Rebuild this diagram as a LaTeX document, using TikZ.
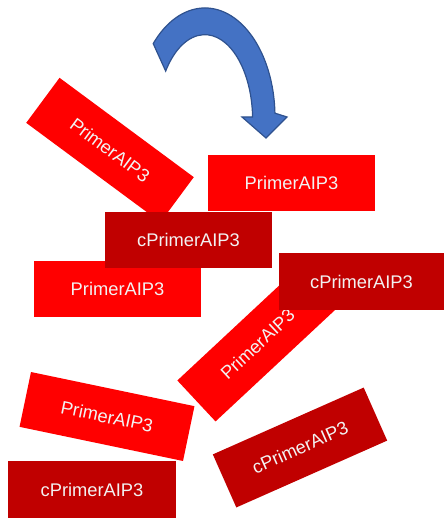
\documentclass[tikz,border=0pt]{standalone}
\usepackage{fontspec}
\setmainfont{Liberation Sans}
\definecolor{brightred}{HTML}{FF0000}
\definecolor{darkred}{HTML}{C00000}
\definecolor{arrowblue}{HTML}{4472C4}
\definecolor{arrowedge}{HTML}{2F528F}
\begin{document}
\begin{tikzpicture}[x=1pt,y=-1pt,
  primerbox/.style={fill=brightred, text=white!95!black, minimum width=167pt, minimum height=56pt, inner sep=0pt, font=\fontsize{18.3}{20}\selectfont},
  cprimerbox/.style={primerbox, fill=darkred}]
\useasboundingbox (0,0) rectangle (444,518);
% curved block arrow
\filldraw[fill=arrowblue, draw=arrowedge, line width=1.2pt, line join=miter]
  (153.2,43.6) arc[start angle=-137.7, end angle=-2, x radius=70, y radius=109]
  -- (287,117) -- (266,138) -- (242,117) -- (252.6,117)
  arc[start angle=-2, end angle=-145, x radius=47.8, y radius=85.3] -- cycle;
% boxes
\node[primerbox, rotate=-36.5] (p1) at (110,150) {PrimerAIP3};
\node[primerbox, minimum width=167.5pt, minimum height=56pt] (p2) at (291.5,183) {PrimerAIP3};
\node[primerbox] (p4) at (117.5,289) {PrimerAIP3};
\node[cprimerbox, minimum width=167pt] (c3) at (188.5,240) {cPrimerAIP3};
\node[primerbox, rotate=43] (p6) at (257.5,344) {PrimerAIP3};
\node[cprimerbox, minimum width=165pt, minimum height=57pt] (c5) at (361.5,281.5) {cPrimerAIP3};
\node[primerbox, rotate=-11.8] (p7) at (107,416.5) {PrimerAIP3};
\node[cprimerbox, minimum width=168pt, minimum height=57pt] (c8) at (92,489.5) {cPrimerAIP3};
\node[cprimerbox, minimum width=165pt, minimum height=58pt, rotate=23.9] (c9) at (300,447.5) {cPrimerAIP3};
\end{tikzpicture}
\end{document}
